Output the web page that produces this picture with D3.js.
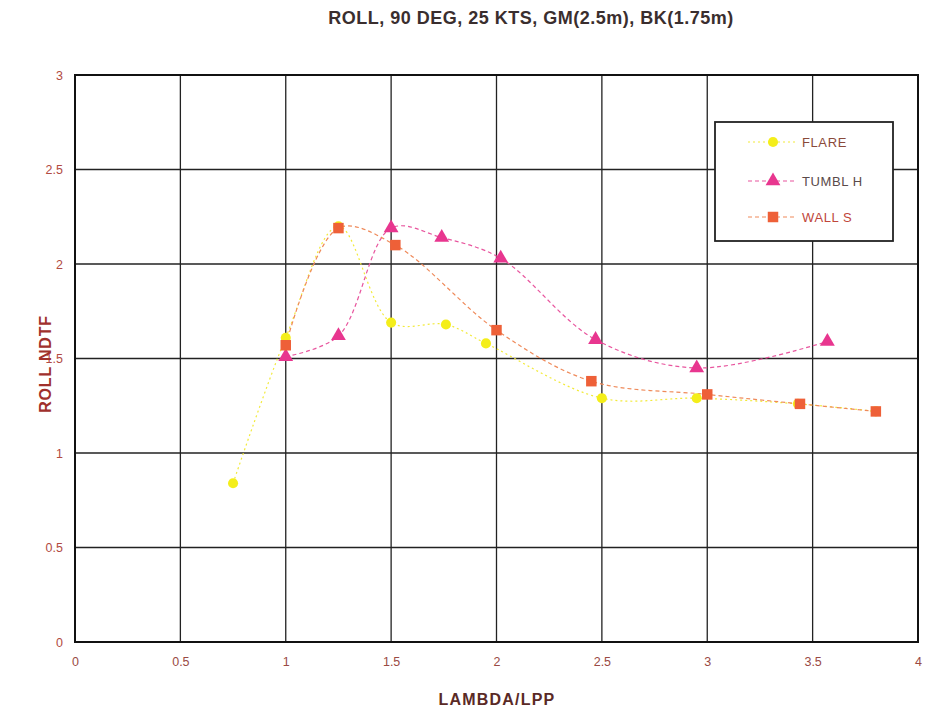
<!DOCTYPE html>
<html><head><meta charset="utf-8">
<script src="https://cdn.jsdelivr.net/npm/d3@7"></script>
<style>body{margin:0;background:#fff;}svg{display:block;font-family:"Liberation Sans",Arial,sans-serif;}</style>
</head><body>
<svg id="c" width="928" height="710"></svg>
<script>
const xTicks = [0, 0.5, 1, 1.5, 2, 2.5, 3, 3.5, 4];
const xTickLabels = ["0", "0.5", "1", "1.5", "2", "2.5", "3", "3.5", "4"];
const yTicks = [0, 0.5, 1, 1.5, 2, 2.5, 3];
const yTickLabels = ["0", "0.5", "1", "1.5", "2", "2.5", "3"];
const seriesNames = ["FLARE", "TUMBL H", "WALL S"];
const flareX = [0.75, 1.0, 1.25, 1.5, 1.76, 1.95, 2.5, 2.95, 3.43, 3.8];
const flareY = [0.84, 1.61, 2.20, 1.69, 1.68, 1.58, 1.29, 1.29, 1.26, 1.22];
const tumblX = [1.0, 1.25, 1.5, 1.74, 2.02, 2.47, 2.95, 3.57];
const tumblY = [1.51, 1.62, 2.19, 2.14, 2.03, 1.60, 1.45, 1.59];
const wallX = [1.0, 1.25, 1.52, 2.0, 2.45, 3.0, 3.44, 3.8];
const wallY = [1.57, 2.19, 2.10, 1.65, 1.38, 1.31, 1.26, 1.22];

const svg = d3.select("#c");
const L = 75, R = 918, T = 75, B = 642;
const x = d3.scaleLinear().domain([0, 4]).range([L, R]);
const y = d3.scaleLinear().domain([0, 3]).range([B, T]);

// gridlines
svg.append("g").selectAll("line").data(xTicks).join("line")
  .attr("x1", d => x(d)).attr("x2", d => x(d)).attr("y1", T).attr("y2", B)
  .attr("stroke", "#222").attr("stroke-width", 1.3);
svg.append("g").selectAll("line").data(yTicks).join("line")
  .attr("x1", L).attr("x2", R).attr("y1", d => y(d)).attr("y2", d => y(d))
  .attr("stroke", "#222").attr("stroke-width", 1.3);
svg.append("rect").attr("x", L).attr("y", T).attr("width", R - L).attr("height", B - T)
  .attr("fill", "none").attr("stroke", "#111").attr("stroke-width", 2);

// axes labels
const xAxis = d3.axisBottom(x).tickValues(xTicks).tickFormat((d, i) => xTickLabels[i]).tickSize(0).tickPadding(15);
const gx = svg.append("g").attr("transform", `translate(0,${B})`).call(xAxis);
gx.select(".domain").remove();
gx.selectAll("text").attr("fill", "#9a4a44").attr("font-size", 12.5).attr("font-family", "Liberation Sans, Arial");
const yAxis = d3.axisLeft(y).tickValues(yTicks).tickFormat((d, i) => yTickLabels[i]).tickSize(0).tickPadding(12);
const gy = svg.append("g").attr("transform", `translate(${L},0)`).call(yAxis);
gy.select(".domain").remove();
gy.selectAll("text").attr("fill", "#b24a42").attr("font-size", 12.5).attr("font-family", "Liberation Sans, Arial");

// title & axis titles
svg.append("text").attr("x", 531).attr("y", 24).attr("text-anchor", "middle")
  .attr("font-size", 18).attr("font-weight", "bold").attr("fill", "#3a2e2e").attr("letter-spacing", 0.5)
  .text("ROLL, 90 DEG, 25 KTS, GM(2.5m), BK(1.75m)");
svg.append("text").attr("transform", "translate(51,364) rotate(-90)").attr("text-anchor", "middle")
  .attr("font-size", 16).attr("font-weight", "bold").attr("fill", "#a0302c").attr("letter-spacing", 0.8).text("ROLL NDTF");
svg.append("text").attr("x", 497).attr("y", 705).attr("text-anchor", "middle")
  .attr("font-size", 16).attr("font-weight", "bold").attr("fill", "#5a2a26").attr("letter-spacing", 1.2).text("LAMBDA/LPP");

const series = [
  {name: seriesNames[0], xs: flareX, ys: flareY, color: "#f4ee1a", line: "#f2ea3a", sym: d3.symbolCircle, size: 80, dash: "2,3"},
  {name: seriesNames[1], xs: tumblX, ys: tumblY, color: "#e8368f", line: "#e8559e", sym: d3.symbolTriangle, size: 95, dash: "4,3"},
  {name: seriesNames[2], xs: wallX, ys: wallY, color: "#ee6038", line: "#ef8a5a", sym: d3.symbolSquare, size: 110, dash: "4,3"}
];
const lineGen = d3.line().x(d => x(d[0])).y(d => y(d[1])).curve(d3.curveCatmullRom.alpha(0.5));
series.forEach(s => {
  const pts = s.xs.map((v, i) => [v, s.ys[i]]);
  svg.append("path").datum(pts).attr("d", lineGen).attr("fill", "none")
    .attr("stroke", s.line).attr("stroke-width", 1.2).attr("stroke-dasharray", s.dash);
});
series.forEach(s => {
  const pts = s.xs.map((v, i) => [v, s.ys[i]]);
  svg.append("g").selectAll("path").data(pts).join("path")
    .attr("transform", d => `translate(${x(d[0])},${y(d[1])})`)
    .attr("d", d3.symbol().type(s.sym).size(s.size)).attr("fill", s.color);
});

// legend
const lg = svg.append("g");
lg.append("rect").attr("x", 715).attr("y", 122).attr("width", 178).attr("height", 119)
  .attr("fill", "#fff").attr("stroke", "#222").attr("stroke-width", 1.8);
const legendTextColors = ["#8a4a3a", "#5a4a4a", "#c0463a"];
const rowY = [142, 181, 217];
series.forEach((s, i) => {
  lg.append("line").attr("x1", 748).attr("x2", 797).attr("y1", rowY[i]).attr("y2", rowY[i])
    .attr("stroke", s.line).attr("stroke-width", 1.2).attr("stroke-dasharray", s.dash);
  lg.append("path").attr("transform", `translate(773,${rowY[i]})`)
    .attr("d", d3.symbol().type(s.sym).size(s.size)).attr("fill", s.color);
  lg.append("text").attr("x", 802).attr("y", rowY[i] + 5).attr("font-size", 13).attr("letter-spacing", 0.6)
    .attr("fill", legendTextColors[i]).text(s.name);
});
</script>
</body></html>
